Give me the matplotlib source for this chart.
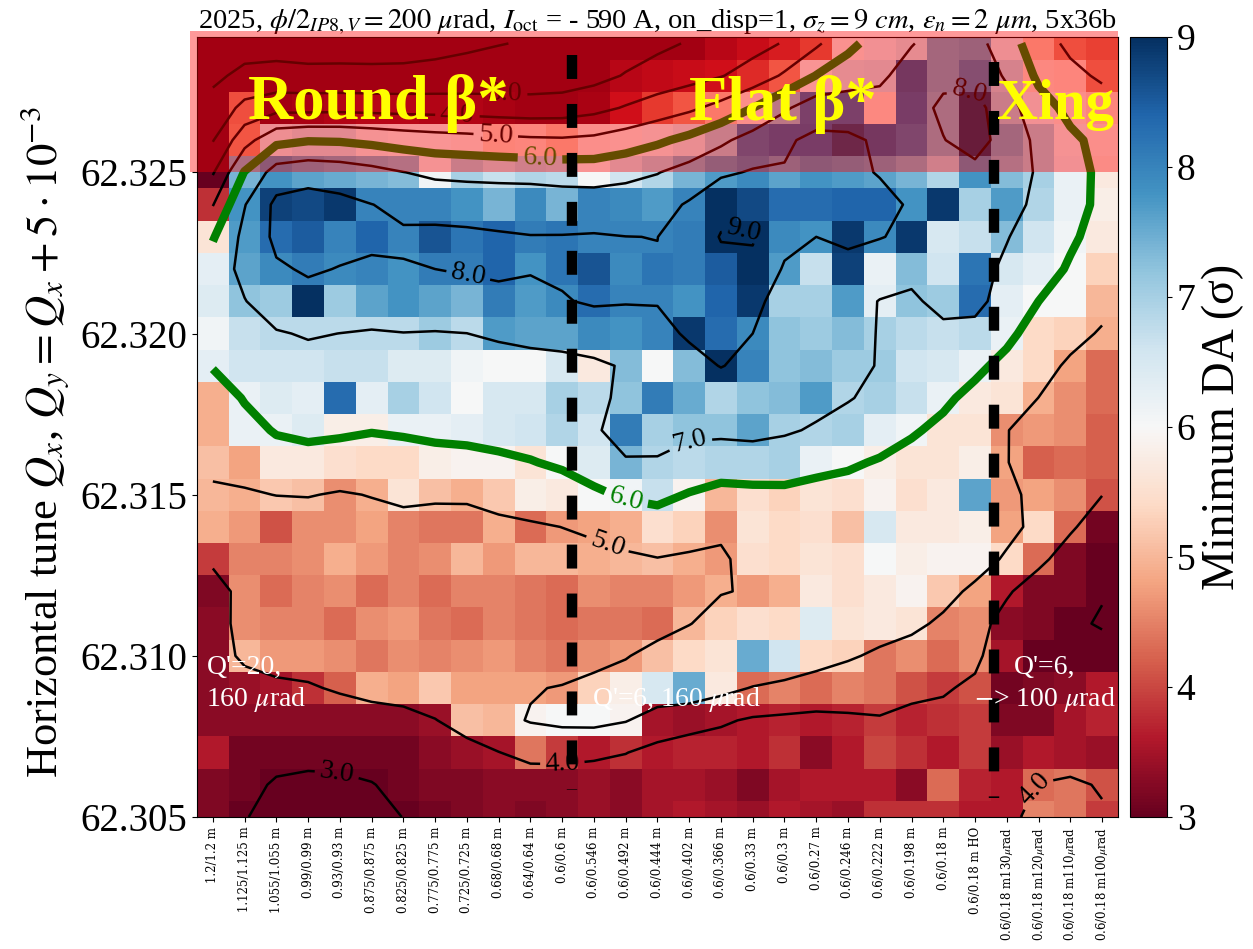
import numpy as np
import matplotlib
matplotlib.use('Agg')
import matplotlib.pyplot as plt
from matplotlib.patches import Rectangle

plt.rcParams['font.family'] = ['Liberation Serif', 'DejaVu Serif']
plt.rcParams['mathtext.fontset'] = 'stix'

optics = ["1.2/1.2 m", "1.125/1.125 m", "1.055/1.055 m", "0.99/0.99 m", "0.93/0.93 m",
          "0.875/0.875 m", "0.825/0.825 m", "0.775/0.775 m", "0.725/0.725 m", "0.68/0.68 m",
          "0.64/0.64 m", "0.6/0.6 m", "0.6/0.546 m", "0.6/0.492 m", "0.6/0.444 m",
          "0.6/0.402 m", "0.6/0.366 m", "0.6/0.33 m", "0.6/0.3 m", "0.6/0.27 m",
          "0.6/0.246 m", "0.6/0.222 m", "0.6/0.198 m", "0.6/0.18 m", "0.6/0.18 m HO",
          r"0.6/0.18 m130$\mu$rad", r"0.6/0.18 m120$\mu$rad", r"0.6/0.18 m110$\mu$rad",
          r"0.6/0.18 m100$\mu$rad"]

tunes = [62.305, 62.306, 62.307, 62.308, 62.309, 62.310, 62.311, 62.312, 62.313,
         62.314, 62.315, 62.316, 62.317, 62.318, 62.319, 62.320, 62.321, 62.322,
         62.323, 62.324, 62.325, 62.326, 62.327, 62.328, 62.329]

# minimum DA, one row per tune, top row (62.329) first
min_da_rows = [
    [1.5, 1.6, 1.6, 1.6, 1.6, 1.6, 1.6, 1.7, 1.8, 1.9, 2.0, 2.0, 2.1, 2.3, 2.6, 2.9, 3.3, 3.5, 3.8, 4.2, 5.9, 6.2, 6.5, 7.5, 7.6, 6.3, 5.2, 4.5, 4.3],
    [1.6, 2.0, 2.0, 2.0, 2.0, 1.9, 1.9, 2.0, 2.1, 2.2, 2.3, 2.4, 2.6, 3.3, 3.4, 3.5, 3.6, 4.0, 4.6, 6.0, 6.5, 6.6, 8.5, 7.5, 8.0, 6.8, 5.6, 5.5, 4.5],
    [1.7, 4.5, 3.0, 3.1, 3.2, 3.3, 3.3, 3.2, 3.2, 3.1, 3.0, 3.0, 3.1, 3.6, 4.2, 4.6, 5.2, 5.8, 7.2, 8.3, 8.3, 5.6, 8.4, 7.4, 9.8, 7.0, 6.2, 5.8, 5.5],
    [2.0, 4.6, 6.3, 6.6, 6.6, 6.1, 6.0, 6.0, 5.9, 5.4, 5.5, 5.2, 5.8, 5.9, 6.1, 6.4, 7.0, 8.2, 8.4, 8.4, 8.8, 8.5, 8.2, 7.4, 9.8, 7.5, 7.0, 6.1, 5.8],
    [3.0, 7.4, 7.8, 7.6, 7.5, 7.4, 7.3, 6.1, 7.0, 6.7, 6.9, 6.8, 6.0, 6.6, 6.9, 7.4, 7.7, 7.9, 7.6, 7.8, 7.7, 7.6, 7.4, 6.9, 7.8, 7.3, 7.0, 6.2, 5.7],
    [3.8, 7.8, 8.8, 8.7, 8.9, 8.0, 8.0, 8.0, 7.8, 7.4, 7.9, 7.4, 8.0, 7.9, 7.7, 8.0, 9.5, 8.7, 8.3, 8.3, 8.4, 8.4, 7.8, 8.9, 7.0, 7.7, 6.9, 6.2, 5.8],
    [5.6, 7.7, 8.3, 8.5, 8.0, 8.4, 8.0, 8.6, 8.2, 8.4, 8.1, 8.2, 8.0, 8.0, 8.0, 8.1, 9.6, 10.0, 7.9, 7.8, 8.9, 7.9, 8.9, 6.5, 6.7, 7.3, 6.6, 6.1, 5.7],
    [6.3, 7.6, 7.9, 8.1, 7.9, 8.0, 7.8, 8.1, 8.1, 8.4, 7.8, 8.2, 8.6, 7.9, 8.2, 8.1, 8.5, 9.4, 7.7, 6.7, 8.8, 6.2, 7.3, 6.6, 8.2, 6.5, 6.3, 6.0, 5.3],
    [6.4, 7.2, 7.1, 9.0, 7.1, 7.6, 7.8, 7.6, 7.4, 8.1, 7.7, 7.9, 8.3, 8.0, 8.0, 7.8, 8.4, 8.9, 7.0, 7.0, 7.7, 6.3, 7.2, 7.1, 8.3, 6.3, 6.0, 6.0, 5.0],
    [6.1, 6.7, 6.8, 6.8, 6.8, 6.8, 6.8, 7.1, 6.8, 7.7, 7.6, 7.6, 7.9, 7.8, 8.0, 8.9, 8.3, 7.9, 7.2, 7.1, 7.3, 7.0, 6.8, 6.7, 6.8, 6.2, 5.4, 5.3, 4.9],
    [6.3, 6.6, 6.6, 6.6, 6.7, 6.7, 6.4, 6.4, 6.1, 6.0, 6.0, 6.5, 5.7, 7.3, 6.0, 7.3, 9.0, 8.0, 7.2, 7.3, 7.1, 7.1, 6.6, 6.5, 6.2, 5.7, 5.4, 4.8, 4.3],
    [4.9, 6.2, 6.4, 6.3, 8.3, 6.3, 7.0, 6.6, 6.0, 6.5, 6.5, 7.0, 6.8, 7.2, 8.1, 7.5, 6.9, 7.2, 7.3, 7.7, 6.9, 7.0, 6.7, 6.2, 5.7, 5.6, 4.9, 4.6, 4.3],
    [4.9, 6.2, 6.2, 6.4, 5.8, 5.8, 6.2, 6.2, 6.3, 6.5, 6.6, 6.9, 6.6, 8.1, 7.0, 7.2, 7.2, 7.6, 7.0, 6.9, 7.0, 6.3, 6.1, 5.6, 5.6, 4.6, 4.7, 4.6, 4.2],
    [5.1, 4.8, 5.7, 5.7, 5.5, 5.4, 5.4, 5.8, 5.9, 5.9, 5.6, 6.0, 6.4, 7.4, 6.9, 6.8, 6.9, 6.9, 7.0, 6.2, 6.0, 5.8, 5.6, 5.6, 5.8, 4.8, 4.2, 4.3, 4.2],
    [5.0, 4.9, 5.2, 5.1, 4.6, 4.9, 5.6, 5.1, 4.9, 5.2, 5.8, 5.7, 6.0, 6.1, 6.7, 5.9, 5.0, 5.5, 5.3, 5.6, 5.5, 5.9, 5.5, 5.7, 7.6, 4.7, 4.8, 4.6, 4.1],
    [4.9, 4.7, 4.1, 4.6, 4.6, 4.8, 4.5, 4.4, 4.4, 4.9, 4.3, 4.7, 4.8, 4.9, 5.5, 5.3, 4.6, 5.6, 5.4, 5.5, 5.1, 6.5, 5.7, 5.7, 5.8, 4.8, 5.4, 4.3, 3.1],
    [3.9, 4.5, 4.5, 4.6, 4.9, 4.7, 4.5, 4.6, 5.0, 4.7, 5.0, 5.0, 4.9, 5.0, 5.1, 4.9, 4.7, 5.5, 5.4, 5.6, 5.5, 6.0, 5.8, 5.9, 5.9, 5.4, 4.3, 3.2, 3.0],
    [3.2, 4.6, 4.3, 4.5, 4.6, 4.3, 4.5, 4.3, 4.5, 4.5, 4.4, 4.3, 4.6, 4.5, 4.5, 4.7, 4.9, 4.7, 4.9, 5.7, 5.5, 5.7, 5.9, 5.2, 4.8, 3.6, 3.2, 3.2, 3.0],
    [3.3, 4.6, 4.5, 4.5, 4.3, 4.6, 4.7, 4.4, 4.3, 4.5, 4.4, 4.3, 4.4, 4.4, 4.3, 5.0, 5.3, 5.5, 5.4, 6.4, 5.6, 5.7, 5.6, 4.5, 4.6, 3.3, 3.2, 3.0, 2.9],
    [3.3, 5.0, 4.7, 4.7, 4.6, 4.4, 4.6, 4.5, 4.6, 4.7, 4.5, 4.4, 4.6, 4.7, 5.1, 5.4, 5.6, 7.5, 6.6, 5.4, 5.3, 4.4, 4.6, 4.3, 4.6, 3.5, 3.0, 3.0, 3.0],
    [3.3, 3.4, 3.5, 3.8, 4.2, 4.9, 4.8, 5.2, 4.8, 4.8, 4.8, 4.7, 5.3, 5.8, 6.5, 7.5, 5.7, 4.3, 4.5, 4.3, 4.5, 4.4, 4.1, 3.9, 4.1, 3.1, 3.2, 3.3, 3.6],
    [3.3, 3.3, 3.3, 3.3, 3.3, 3.3, 3.3, 3.4, 5.1, 5.0, 5.9, 6.0, 6.0, 5.9, 3.5, 3.4, 3.5, 3.6, 3.7, 3.6, 3.7, 3.9, 3.7, 3.8, 3.9, 3.2, 3.2, 3.5, 3.7],
    [3.6, 3.1, 3.1, 3.1, 3.1, 3.1, 3.1, 3.3, 3.4, 3.5, 4.4, 3.9, 3.6, 3.8, 3.6, 3.7, 3.7, 3.6, 3.8, 3.3, 3.6, 4.0, 3.8, 3.6, 3.9, 3.4, 3.6, 3.5, 3.4],
    [3.2, 3.1, 2.9, 2.9, 2.9, 3.0, 3.1, 3.2, 3.2, 3.3, 3.3, 3.3, 3.4, 3.3, 3.5, 3.5, 3.4, 3.2, 3.5, 3.6, 3.6, 3.6, 3.3, 4.3, 3.7, 3.6, 4.3, 4.4, 4.1],
    [3.2, 3.0, 2.8, 2.8, 2.8, 2.8, 3.0, 3.1, 3.2, 3.3, 3.2, 3.3, 3.4, 3.3, 3.5, 3.6, 3.5, 3.4, 3.6, 3.5, 3.4, 3.8, 3.8, 3.8, 3.6, 3.6, 4.5, 4.4, 3.9],
]

contour_levels = [2, 3, 4, 5, 7, 8, 9]


def smooth(z):
    # light binomial smoothing, only for the contour lines
    k = np.array([1.0, 2.0, 1.0])
    p = np.pad(z, 1, mode='edge')
    rows = k[0] * p[:, :-2] + k[1] * p[:, 1:-1] + k[2] * p[:, 2:]
    out = k[0] * rows[:-2, :] + k[1] * rows[1:-1, :] + k[2] * rows[2:, :]
    return out / 16.0


x = np.arange(len(optics))
y = np.array(tunes)
Z = np.array(min_da_rows[::-1])
Zs = smooth(Z)

fig = plt.figure(figsize=(12.53, 9.49), dpi=100)
ax = fig.add_axes([0.1572, 0.1391, 0.7350, 0.8219])
cax = fig.add_axes([0.9018, 0.1391, 0.0295, 0.8219])

mesh = ax.pcolormesh(x, y, Z, cmap='RdBu', vmin=3, vmax=9, shading='nearest')

cs = ax.contour(x, y, Zs, levels=contour_levels, colors='k', linewidths=1.8)
cs6 = ax.contour(x, y, Zs, levels=[6], colors='green', linewidths=6)

ax.clabel(cs, fmt='%.1f', fontsize=20, inline=True,
          manual=[(3.9, 62.3062), (11.0, 62.3067), (26.0, 62.3058), (12.3, 62.3131),
                  (15.0, 62.3170), (8.1, 62.3221), (16.7, 62.3237), (23.8, 62.3276),
                  (9.2, 62.3272), (7.7, 62.3267), (8.9, 62.3260)])
ax.clabel(cs6, fmt='%.1f', fontsize=20, inline=True, colors='green',
          manual=[(13.0, 62.3148), (10.3, 62.3254)])

# red band over the round-optics top region
ax.add_patch(Rectangle((-0.72, 62.325), 29.22, 0.0044, facecolor='red', edgecolor='none',
                       alpha=0.4, clip_on=False, zorder=4))

# dashed separators
ax.plot([11.3, 11.3], [62.32863, 62.30584], color='k', lw=7.5, dashes=(2.3, 2.4), zorder=5)
ax.plot([24.6, 24.6], [62.32841, 62.30560], color='k', lw=7.5, dashes=(2.3, 2.4), zorder=5)

bold = dict(color='yellow', fontweight='bold', zorder=6, va='center', ha='left')
ax.text(1.1, 62.32715, 'Round β*', fontsize=45, **bold)
ax.text(15.0, 62.32710, 'Flat β*', fontsize=45, **bold)
ax.text(24.7, 62.32710, 'Xing', fontsize=41, **bold)

ax.text(-0.2, 62.30912, "Q'=20,\n160 $\\mu$rad", color='white', fontsize=20, ha='left',
        va='center', zorder=6, linespacing=1.25)
ax.text(14.6, 62.30863, "Q'=6, 160 $\\mu$rad", color='white', fontsize=20, ha='center',
        va='center', zorder=6)
ax.text(26.2, 62.30912, "Q'=6,\n$-$> 100 $\\mu$rad", color='white', fontsize=20, ha='center',
        va='center', zorder=6, linespacing=1.25)

ax.set_xlim(-0.5, 28.5)
ax.set_ylim(62.305, 62.3292)
ax.set_xticks(x)
ax.set_xticklabels(optics, rotation=90, fontsize=8.5, family='DejaVu Serif')
ax.set_yticks([62.305, 62.310, 62.315, 62.320, 62.325])
ax.set_yticklabels(['62.305', '62.310', '62.315', '62.320', '62.325'], fontsize=28)
ax.set_ylabel(r'Horizontal tune $Q_x$, $Q_y = Q_x + 5\cdot10^{-3}$', fontsize=32)
ax.yaxis.set_label_coords(-0.137, 0.481)
ax.set_title(r'2025, $\phi/2_{IP8,V}=200$ $\mu$rad, $I_{\rm oct}$ = - 590 A, on_disp=1, '
             r'$\sigma_z=9$ $cm$, $\varepsilon_n=2$ $\mu m$, 5x36b', fontsize=20.5, pad=5)

cb = fig.colorbar(mesh, cax=cax, ticks=[3, 4, 5, 6, 7, 8, 9])
cb.ax.tick_params(labelsize=27)
cb.set_label('Minimum DA (σ)', fontsize=33)

fig.savefig('out.png', dpi=100)
